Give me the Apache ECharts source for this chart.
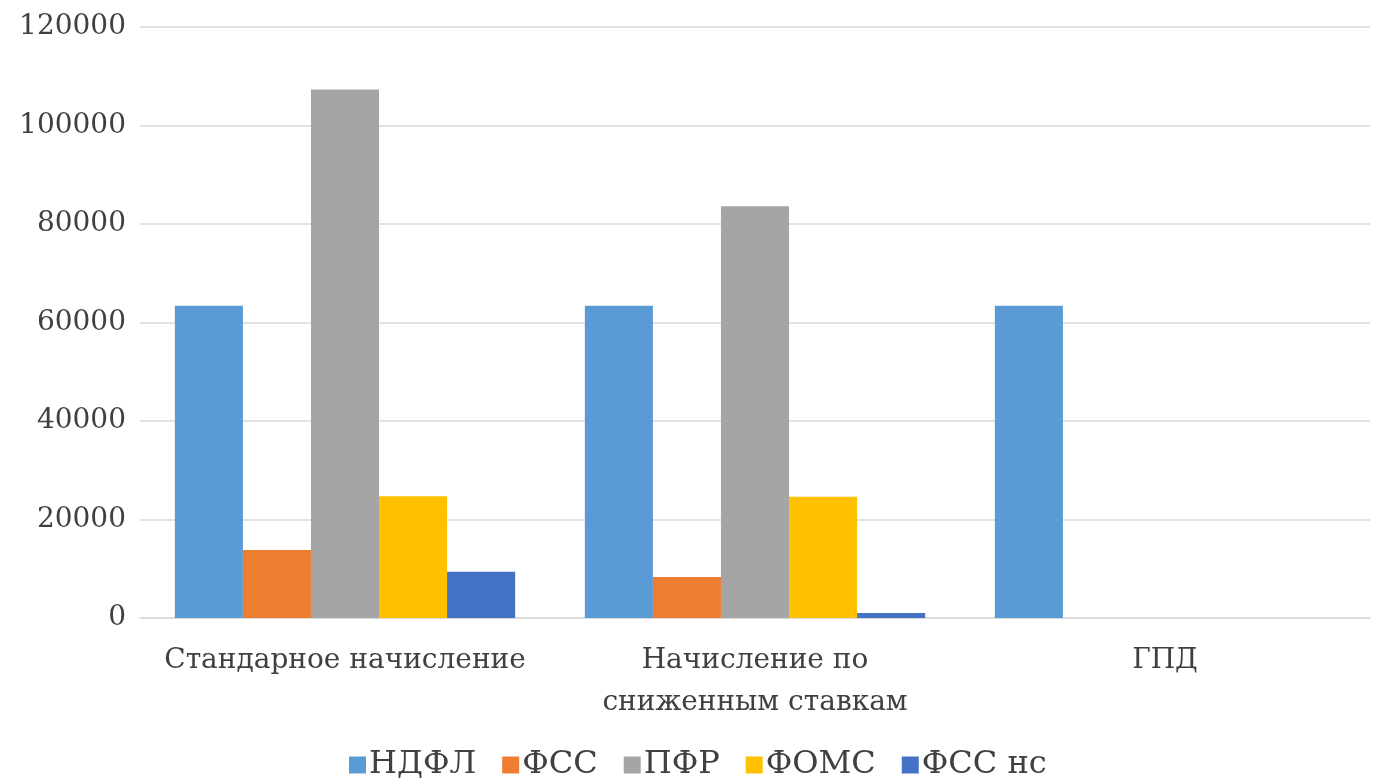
<!DOCTYPE html>
<html>
<head>
<meta charset="utf-8">
<script src="https://cdn.jsdelivr.net/npm/echarts@6/dist/echarts.min.js"></script>
<style>
html,body{margin:0;padding:0;background:#fff;}
#chart{width:1374px;height:784px;}
</style>
</head>
<body>
<div id="chart"></div>
<script>
const categories = ['Стандарное начисление', 'Начисление по\nсниженным ставкам', 'ГПД'];
const seriesNames = ['НДФЛ', 'ФСС', 'ПФР', 'ФОМС', 'ФСС нс'];
const ndfl = [63400, 63400, 63400];
const fss = [13800, 8300, 0];
const pfr = [107300, 83600, 0];
const foms = [24700, 24600, 0];
const fssNs = [9400, 1000, 0];
const yTicks = [0, 20000, 40000, 60000, 80000, 100000, 120000];

const colors = ['#5B9BD5', '#ED7D31', '#A5A5A5', '#FFC000', '#4472C4'];
const values = [ndfl, fss, pfr, foms, fssNs];
const font = 'DejaVu Serif';

const chart = echarts.init(document.getElementById('chart'));
chart.setOption({
  animation: false,
  color: colors,
  grid: {left: 140, right: 4, top: 27, bottom: 166},
  legend: {
    top: 744,
    left: 344,
    icon: 'rect',
    itemWidth: 17,
    itemHeight: 17,
    itemGap: 26,
    textStyle: {fontFamily: font, fontSize: 32, color: '#404040', padding: [0, 0, 0, -2]},
    data: seriesNames
  },
  xAxis: {
    type: 'category',
    data: categories,
    axisLine: {lineStyle: {color: '#d9d9d9', width: 1.5}},
    axisTick: {show: false},
    axisLabel: {fontFamily: font, fontSize: 28, color: '#404040', margin: 22, lineHeight: 42, interval: 0}
  },
  yAxis: {
    type: 'value',
    min: yTicks[0],
    max: yTicks[yTicks.length - 1],
    interval: 20000,
    axisLine: {show: false},
    axisTick: {show: false},
    splitLine: {lineStyle: {color: '#d9d9d9', width: 1.5}},
    axisLabel: {fontFamily: font, fontSize: 28, color: '#404040', margin: 14, formatter: v => String(v)}
  },
  series: seriesNames.map((n, i) => ({
    name: n,
    type: 'bar',
    data: values[i],
    barGap: '0%',
    barCategoryGap: '17%'
  }))
});
</script>
</body>
</html>
